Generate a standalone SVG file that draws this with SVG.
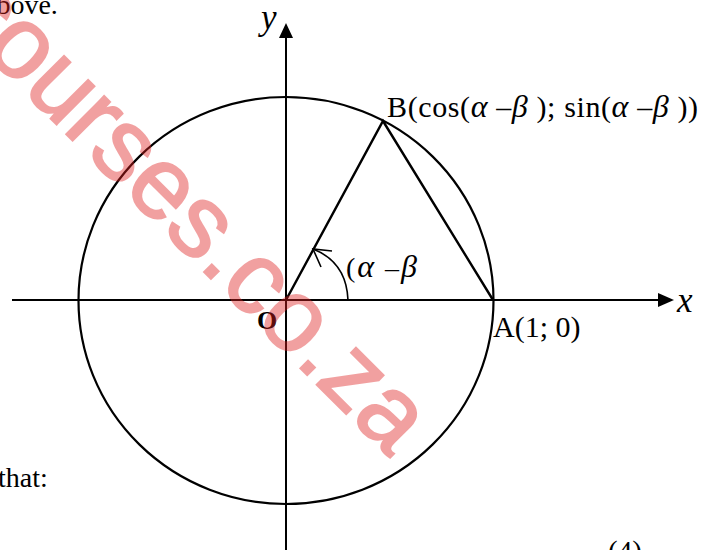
<svg xmlns="http://www.w3.org/2000/svg" width="704" height="550" viewBox="0 0 704 550">
<style>
.t{font-family:"Liberation Serif","Times New Roman",serif;fill:#000}
.i{font-style:italic}
.g{font-style:italic;font-size:32px}
.ln{stroke:#000;fill:none}
</style>
<rect width="704" height="550" fill="#fff"/>
<g id="page-text">
<text class="t" x="-16" y="14" font-size="28">above.</text>
<text class="t" x="-2" y="487" font-size="28">that:</text>
<text class="t" x="608" y="561" font-size="29">(4)</text>
</g>
<g id="axes">
<line class="ln" x1="12" y1="300" x2="660" y2="300" stroke-width="2"/>
<polygon points="674,300 658,293 658,307" fill="#000"/>
<line class="ln" x1="286" y1="550" x2="286" y2="37" stroke-width="2"/>
<polygon points="286,23 279,38 293,38" fill="#000"/>
<text class="t i" x="677" y="312" font-size="35">x</text>
<text class="t i" x="261" y="29" font-size="35">y</text>
</g>
<g id="circle">
<ellipse class="ln" cx="286" cy="300.5" rx="207.5" ry="203.5" stroke-width="2.2"/>
</g>
<g id="connectors">
<polyline class="ln" points="286,300 383,121 493,300" stroke-width="2.4" stroke-linejoin="miter"/>
<path class="ln" d="M348,300 C347,276 336,258 313,249" stroke-width="1.6"/>
<polyline class="ln" points="332,251 313,249 321,267" stroke-width="1.6"/>
</g>
<g id="node-O">
<text class="t" x="257" y="329" font-size="26" font-weight="bold">O</text>
</g>
<g id="node-A">
<text class="t" x="493" y="337" font-size="30">A(1; 0)</text>
</g>
<g id="node-B">
<text class="t" x="387" y="117" font-size="30" textLength="311" lengthAdjust="spacing">B(cos(<tspan class="g">α</tspan> –<tspan class="g">β</tspan> ); sin(<tspan class="g">α</tspan> –<tspan class="g">β</tspan> ))</text>
</g>
<g id="angle-label">
<text class="t" x="346" y="277" font-size="28" textLength="71" lengthAdjust="spacing">(<tspan class="g">α</tspan> –<tspan class="g">β</tspan></text>
</g>
<g id="watermark" opacity="0.42">
<text transform="translate(-55,13) rotate(45)" x="0" y="0" font-family="'Liberation Sans',Arial,sans-serif" font-size="102" fill="#e02020" stroke="#e02020" stroke-width="2">courses.co.za</text>
</g>
</svg>
